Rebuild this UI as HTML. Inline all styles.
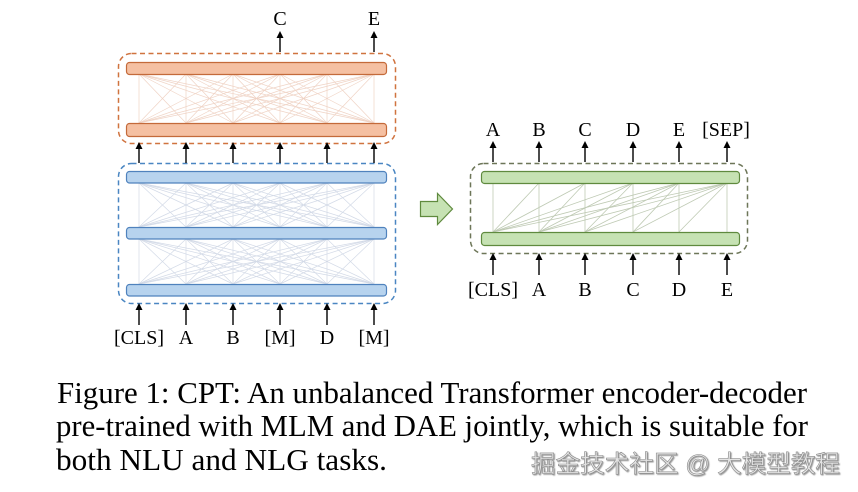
<!DOCTYPE html>
<html><head><meta charset="utf-8"><style>
html,body{margin:0;padding:0;background:#fff;}
svg{display:block;}
</style></head><body>
<svg width="858" height="492" viewBox="0 0 858 492" xmlns="http://www.w3.org/2000/svg">
<defs>
<filter id="sh" x="-5%" y="-20%" width="110%" height="140%">
<feDropShadow dx="1" dy="1" stdDeviation="0.6" flood-color="#555" flood-opacity="0.6"/>
</filter>
</defs>

<!-- Orange connections -->
<g stroke="#e0a88c" stroke-width="0.7" opacity="0.5">
<line x1="139" y1="123" x2="139" y2="74"/><line x1="139" y1="123" x2="186" y2="74"/><line x1="139" y1="123" x2="233" y2="74"/><line x1="139" y1="123" x2="280" y2="74"/><line x1="139" y1="123" x2="327" y2="74"/><line x1="139" y1="123" x2="374" y2="74"/>
<line x1="186" y1="123" x2="139" y2="74"/><line x1="186" y1="123" x2="186" y2="74"/><line x1="186" y1="123" x2="233" y2="74"/><line x1="186" y1="123" x2="280" y2="74"/><line x1="186" y1="123" x2="327" y2="74"/><line x1="186" y1="123" x2="374" y2="74"/>
<line x1="233" y1="123" x2="139" y2="74"/><line x1="233" y1="123" x2="186" y2="74"/><line x1="233" y1="123" x2="233" y2="74"/><line x1="233" y1="123" x2="280" y2="74"/><line x1="233" y1="123" x2="327" y2="74"/><line x1="233" y1="123" x2="374" y2="74"/>
<line x1="280" y1="123" x2="139" y2="74"/><line x1="280" y1="123" x2="186" y2="74"/><line x1="280" y1="123" x2="233" y2="74"/><line x1="280" y1="123" x2="280" y2="74"/><line x1="280" y1="123" x2="327" y2="74"/><line x1="280" y1="123" x2="374" y2="74"/>
<line x1="327" y1="123" x2="139" y2="74"/><line x1="327" y1="123" x2="186" y2="74"/><line x1="327" y1="123" x2="233" y2="74"/><line x1="327" y1="123" x2="280" y2="74"/><line x1="327" y1="123" x2="327" y2="74"/><line x1="327" y1="123" x2="374" y2="74"/>
<line x1="374" y1="123" x2="139" y2="74"/><line x1="374" y1="123" x2="186" y2="74"/><line x1="374" y1="123" x2="233" y2="74"/><line x1="374" y1="123" x2="280" y2="74"/><line x1="374" y1="123" x2="327" y2="74"/><line x1="374" y1="123" x2="374" y2="74"/>
</g>

<!-- Blue connections -->
<g stroke="#a8b6d0" stroke-width="0.7" opacity="0.5">
<line x1="139" y1="227" x2="139" y2="183"/><line x1="139" y1="227" x2="186" y2="183"/><line x1="139" y1="227" x2="233" y2="183"/><line x1="139" y1="227" x2="280" y2="183"/><line x1="139" y1="227" x2="327" y2="183"/><line x1="139" y1="227" x2="374" y2="183"/>
<line x1="186" y1="227" x2="139" y2="183"/><line x1="186" y1="227" x2="186" y2="183"/><line x1="186" y1="227" x2="233" y2="183"/><line x1="186" y1="227" x2="280" y2="183"/><line x1="186" y1="227" x2="327" y2="183"/><line x1="186" y1="227" x2="374" y2="183"/>
<line x1="233" y1="227" x2="139" y2="183"/><line x1="233" y1="227" x2="186" y2="183"/><line x1="233" y1="227" x2="233" y2="183"/><line x1="233" y1="227" x2="280" y2="183"/><line x1="233" y1="227" x2="327" y2="183"/><line x1="233" y1="227" x2="374" y2="183"/>
<line x1="280" y1="227" x2="139" y2="183"/><line x1="280" y1="227" x2="186" y2="183"/><line x1="280" y1="227" x2="233" y2="183"/><line x1="280" y1="227" x2="280" y2="183"/><line x1="280" y1="227" x2="327" y2="183"/><line x1="280" y1="227" x2="374" y2="183"/>
<line x1="327" y1="227" x2="139" y2="183"/><line x1="327" y1="227" x2="186" y2="183"/><line x1="327" y1="227" x2="233" y2="183"/><line x1="327" y1="227" x2="280" y2="183"/><line x1="327" y1="227" x2="327" y2="183"/><line x1="327" y1="227" x2="374" y2="183"/>
<line x1="374" y1="227" x2="139" y2="183"/><line x1="374" y1="227" x2="186" y2="183"/><line x1="374" y1="227" x2="233" y2="183"/><line x1="374" y1="227" x2="280" y2="183"/><line x1="374" y1="227" x2="327" y2="183"/><line x1="374" y1="227" x2="374" y2="183"/>

<line x1="139" y1="284" x2="139" y2="239"/><line x1="139" y1="284" x2="186" y2="239"/><line x1="139" y1="284" x2="233" y2="239"/><line x1="139" y1="284" x2="280" y2="239"/><line x1="139" y1="284" x2="327" y2="239"/><line x1="139" y1="284" x2="374" y2="239"/>
<line x1="186" y1="284" x2="139" y2="239"/><line x1="186" y1="284" x2="186" y2="239"/><line x1="186" y1="284" x2="233" y2="239"/><line x1="186" y1="284" x2="280" y2="239"/><line x1="186" y1="284" x2="327" y2="239"/><line x1="186" y1="284" x2="374" y2="239"/>
<line x1="233" y1="284" x2="139" y2="239"/><line x1="233" y1="284" x2="186" y2="239"/><line x1="233" y1="284" x2="233" y2="239"/><line x1="233" y1="284" x2="280" y2="239"/><line x1="233" y1="284" x2="327" y2="239"/><line x1="233" y1="284" x2="374" y2="239"/>
<line x1="280" y1="284" x2="139" y2="239"/><line x1="280" y1="284" x2="186" y2="239"/><line x1="280" y1="284" x2="233" y2="239"/><line x1="280" y1="284" x2="280" y2="239"/><line x1="280" y1="284" x2="327" y2="239"/><line x1="280" y1="284" x2="374" y2="239"/>
<line x1="327" y1="284" x2="139" y2="239"/><line x1="327" y1="284" x2="186" y2="239"/><line x1="327" y1="284" x2="233" y2="239"/><line x1="327" y1="284" x2="280" y2="239"/><line x1="327" y1="284" x2="327" y2="239"/><line x1="327" y1="284" x2="374" y2="239"/>
<line x1="374" y1="284" x2="139" y2="239"/><line x1="374" y1="284" x2="186" y2="239"/><line x1="374" y1="284" x2="233" y2="239"/><line x1="374" y1="284" x2="280" y2="239"/><line x1="374" y1="284" x2="327" y2="239"/><line x1="374" y1="284" x2="374" y2="239"/>
</g>

<!-- Green connections (causal) -->
<g stroke="#a9b89a" stroke-width="0.8" opacity="0.75">
<line x1="493" y1="232" x2="493" y2="183"/><line x1="493" y1="232" x2="539" y2="183"/><line x1="493" y1="232" x2="585" y2="183"/><line x1="493" y1="232" x2="633" y2="183"/><line x1="493" y1="232" x2="679" y2="183"/><line x1="493" y1="232" x2="727" y2="183"/>
<line x1="539" y1="232" x2="539" y2="183"/><line x1="539" y1="232" x2="585" y2="183"/><line x1="539" y1="232" x2="633" y2="183"/><line x1="539" y1="232" x2="679" y2="183"/><line x1="539" y1="232" x2="727" y2="183"/>
<line x1="585" y1="232" x2="585" y2="183"/><line x1="585" y1="232" x2="633" y2="183"/><line x1="585" y1="232" x2="679" y2="183"/><line x1="585" y1="232" x2="727" y2="183"/>
<line x1="633" y1="232" x2="633" y2="183"/><line x1="633" y1="232" x2="679" y2="183"/><line x1="633" y1="232" x2="727" y2="183"/>
<line x1="679" y1="232" x2="679" y2="183"/><line x1="679" y1="232" x2="727" y2="183"/>
<line x1="727" y1="232" x2="727" y2="183"/>
</g>

<!-- Dashed boxes -->
<rect x="118.5" y="53.5" width="277" height="90" rx="13" fill="none" stroke="#d0733f" stroke-width="1.5" stroke-dasharray="5,3.5"/>
<rect x="118.5" y="163.5" width="277" height="140" rx="13" fill="none" stroke="#4a86c2" stroke-width="1.5" stroke-dasharray="5,3.5"/>
<rect x="470.5" y="163.5" width="277" height="90" rx="13" fill="none" stroke="#6d7658" stroke-width="1.5" stroke-dasharray="5,3.5"/>

<!-- Bars -->
<rect x="126.5" y="62.5" width="260" height="12" rx="3" fill="#f5c0a2" stroke="#c46a3a" stroke-width="1.2"/>
<rect x="126.5" y="123.5" width="260" height="13" rx="3" fill="#f5c0a2" stroke="#c46a3a" stroke-width="1.2"/>
<rect x="126.5" y="171.5" width="260" height="11.5" rx="3" fill="#b7d3ee" stroke="#4f82bd" stroke-width="1.2"/>
<rect x="126.5" y="227.5" width="260" height="11.5" rx="3" fill="#b7d3ee" stroke="#4f82bd" stroke-width="1.2"/>
<rect x="126.5" y="284.5" width="260" height="11.5" rx="3" fill="#b7d3ee" stroke="#4f82bd" stroke-width="1.2"/>
<rect x="481.5" y="171.5" width="258" height="12" rx="3" fill="#c6e2b3" stroke="#5f8a3e" stroke-width="1.2"/>
<rect x="481.5" y="232.5" width="258" height="13" rx="3" fill="#c6e2b3" stroke="#5f8a3e" stroke-width="1.2"/>

<!-- Big green arrow -->
<path d="M420.5,201.5 L437.5,201.5 L437.5,193.5 L452.5,209 L437.5,224.5 L437.5,216.5 L420.5,216.5 Z" fill="#c6e2b3" stroke="#5f8a3e" stroke-width="1.2"/>

<!-- Arrows -->
<g stroke="#000" stroke-width="1.4">
<line x1="280" y1="52" x2="280" y2="36"/><line x1="374" y1="52" x2="374" y2="36"/>
<line x1="139" y1="163" x2="139" y2="147"/><line x1="186" y1="163" x2="186" y2="147"/><line x1="233" y1="163" x2="233" y2="147"/><line x1="280" y1="163" x2="280" y2="147"/><line x1="327" y1="163" x2="327" y2="147"/><line x1="374" y1="163" x2="374" y2="147"/>
<line x1="139" y1="325" x2="139" y2="308"/><line x1="186" y1="325" x2="186" y2="308"/><line x1="233" y1="325" x2="233" y2="308"/><line x1="280" y1="325" x2="280" y2="308"/><line x1="327" y1="325" x2="327" y2="308"/><line x1="374" y1="325" x2="374" y2="308"/>
<line x1="493" y1="162" x2="493" y2="146"/><line x1="539" y1="162" x2="539" y2="146"/><line x1="585" y1="162" x2="585" y2="146"/><line x1="633" y1="162" x2="633" y2="146"/><line x1="679" y1="162" x2="679" y2="146"/><line x1="727" y1="162" x2="727" y2="146"/>
<line x1="493" y1="275" x2="493" y2="258"/><line x1="539" y1="275" x2="539" y2="258"/><line x1="585" y1="275" x2="585" y2="258"/><line x1="633" y1="275" x2="633" y2="258"/><line x1="679" y1="275" x2="679" y2="258"/><line x1="727" y1="275" x2="727" y2="258"/>
</g>
<g fill="#000">
<path d="M276.5,38 L280,31 L283.5,38 Z"/><path d="M370.5,38 L374,31 L377.5,38 Z"/>
<path d="M135.5,149 L139,142 L142.5,149 Z"/><path d="M182.5,149 L186,142 L189.5,149 Z"/><path d="M229.5,149 L233,142 L236.5,149 Z"/><path d="M276.5,149 L280,142 L283.5,149 Z"/><path d="M323.5,149 L327,142 L330.5,149 Z"/><path d="M370.5,149 L374,142 L377.5,149 Z"/>
<path d="M135.5,310 L139,303 L142.5,310 Z"/><path d="M182.5,310 L186,303 L189.5,310 Z"/><path d="M229.5,310 L233,303 L236.5,310 Z"/><path d="M276.5,310 L280,303 L283.5,310 Z"/><path d="M323.5,310 L327,303 L330.5,310 Z"/><path d="M370.5,310 L374,303 L377.5,310 Z"/>
<path d="M489.5,148 L493,141 L496.5,148 Z"/><path d="M535.5,148 L539,141 L542.5,148 Z"/><path d="M581.5,148 L585,141 L588.5,148 Z"/><path d="M629.5,148 L633,141 L636.5,148 Z"/><path d="M675.5,148 L679,141 L682.5,148 Z"/><path d="M723.5,148 L727,141 L730.5,148 Z"/>
<path d="M489.5,260 L493,253 L496.5,260 Z"/><path d="M535.5,260 L539,253 L542.5,260 Z"/><path d="M581.5,260 L585,253 L588.5,260 Z"/><path d="M629.5,260 L633,253 L636.5,260 Z"/><path d="M675.5,260 L679,253 L682.5,260 Z"/><path d="M723.5,260 L727,253 L730.5,260 Z"/>
</g>

<!-- Labels -->
<g font-family="'Liberation Serif', serif" font-size="20" fill="#000" text-anchor="middle">
<text x="280" y="25">C</text><text x="374" y="25">E</text>
<text x="139" y="344">[CLS]</text><text x="186" y="344">A</text><text x="233" y="344">B</text><text x="280" y="344">[M]</text><text x="327" y="344">D</text><text x="374" y="344">[M]</text>
<text x="493" y="136">A</text><text x="539" y="136">B</text><text x="585" y="136">C</text><text x="633" y="136">D</text><text x="679" y="136">E</text><text x="726" y="136">[SEP]</text>
<text x="493" y="296">[CLS]</text><text x="539" y="296">A</text><text x="585" y="296">B</text><text x="633" y="296">C</text><text x="679" y="296">D</text><text x="727" y="296">E</text>
</g>

<!-- Caption -->
<g font-family="'Liberation Serif', serif" font-size="31" fill="#000">
<text x="57" y="403" textLength="750" lengthAdjust="spacingAndGlyphs">Figure 1: CPT: An unbalanced Transformer encoder-decoder</text>
<text x="56" y="436" textLength="752" lengthAdjust="spacingAndGlyphs">pre-trained with MLM and DAE jointly, which is suitable for</text>
<text x="56" y="470" textLength="331" lengthAdjust="spacingAndGlyphs">both NLU and NLG tasks.</text>
</g>

<!-- Watermark -->
<text x="531" y="472" font-family="'Liberation Sans', 'Noto Sans CJK SC', sans-serif" font-size="24" fill="#e4e4e4" stroke="#8a8a8a" stroke-width="0.6" filter="url(#sh)" textLength="309" lengthAdjust="spacingAndGlyphs">掘金技术社区 @ 大模型教程</text>
</svg>
</body></html>
